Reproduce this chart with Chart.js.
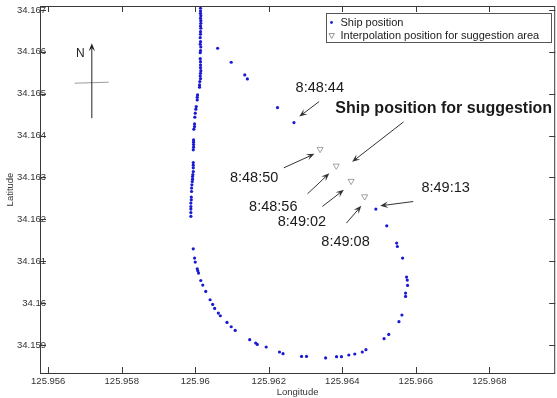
<!DOCTYPE html>
<html>
<head>
<meta charset="utf-8">
<script src="https://cdn.jsdelivr.net/npm/chart.js@4.4.0/dist/chart.umd.min.js"></script>
<style>
  html, body { margin: 0; padding: 0; background: #fff; overflow: hidden; }
  #wrap { width: 560px; height: 398px; position: relative; }
</style>
</head>
<body>
<div id="wrap"><canvas id="track"></canvas></div>
<script>
// ship track (longitude / latitude)
const shipLon = [
  125.960143, 125.960143, 125.960143, 125.960151, 125.960143, 125.960151, 125.960151, 125.960143,
  125.960151, 125.960143, 125.960143, 125.960135, 125.960143, 125.960135, 125.960151, 125.960143,
  125.960135, 125.960135, 125.960143, 125.960143, 125.960143, 125.960151, 125.960143, 125.960135,
  125.960143, 125.960124, 125.960116, 125.960116, 125.960062, 125.960054, 125.960054, 125.960027,
  125.960016, 125.960000, 125.959989, 125.959981, 125.959981, 125.959962, 125.959954, 125.959954,
  125.959954, 125.959954, 125.959946, 125.959946, 125.959946, 125.959946, 125.959946, 125.959935,
  125.959927, 125.959927, 125.959919, 125.959908, 125.959900, 125.959900, 125.959892, 125.959892,
  125.959881, 125.959881, 125.959881, 125.959881, 125.959881,
  125.959946, 125.959981, 125.960000, 125.960054, 125.960070, 125.960089, 125.960151, 125.960205,
  125.960286, 125.960404, 125.960474, 125.960528, 125.960628, 125.960682, 125.960863, 125.960978,
  125.961086, 125.961482, 125.961644, 125.961687, 125.961930, 125.962291, 125.962388, 125.962892,
  125.963027, 125.963547, 125.963844, 125.963978, 125.964178, 125.964340, 125.964544, 125.964644,
  125.965137, 125.965264, 125.965542, 125.965623, 125.965722, 125.965722, 125.965776, 125.965768,
  125.965749, 125.965641, 125.965499, 125.965480, 125.965210, 125.964914,
  125.960609, 125.960978, 125.961348, 125.961418, 125.962237, 125.962685
];
const shipLat = [
  34.167041, 34.166976, 34.166921, 34.166864, 34.166802, 34.166745, 34.166683, 34.166618,
  34.166563, 34.166482, 34.166420, 34.166339, 34.166243, 34.166181, 34.166117, 34.166029,
  34.165981, 34.165838, 34.165766, 34.165687, 34.165623, 34.165551, 34.165489, 34.165425,
  34.165360, 34.165289, 34.165210, 34.165155, 34.164971, 34.164916, 34.164852, 34.164692,
  34.164630, 34.164535, 34.164439, 34.164279, 34.164215, 34.164153, 34.163897, 34.163843,
  34.163785, 34.163723, 34.163659, 34.163356, 34.163294, 34.163229, 34.163141, 34.163069,
  34.163022, 34.162959, 34.162902, 34.162823, 34.162745, 34.162664, 34.162530, 34.162465,
  34.162387, 34.162306, 34.162244, 34.162162, 34.162072,
  34.161296, 34.161074, 34.160979, 34.160819, 34.160771, 34.160716, 34.160539, 34.160430,
  34.160277, 34.160079, 34.159967, 34.159871, 34.159761, 34.159697, 34.159537, 34.159434,
  34.159346, 34.159124, 34.159045, 34.159012, 34.158950, 34.158831, 34.158790, 34.158726,
  34.158726, 34.158688, 34.158719, 34.158719, 34.158759, 34.158783, 34.158831, 34.158886,
  34.159148, 34.159251, 34.159554, 34.159714, 34.160158, 34.160239, 34.160420, 34.160549,
  34.160621, 34.161074, 34.161350, 34.161432, 34.161845, 34.162244,
  34.166086, 34.165752, 34.165449, 34.165353, 34.164668, 34.164310
];

// interpolated positions for the suggestion area
const interpLon = [125.963396, 125.963836, 125.964240, 125.964609];
const interpLat = [34.163675, 34.163277, 34.162912, 34.162544];

const seriesNames = ['Ship position', 'Interpolation position for suggestion area'];

// axis ticks
const xTicks = [125.956, 125.958, 125.960, 125.962, 125.964, 125.966, 125.968];
const yTicks = [34.159, 34.160, 34.161, 34.162, 34.163, 34.164, 34.165, 34.166, 34.167];

// text notes with arrows (data coordinates)
const noteText = ['8:48:44', 'Ship position for suggestion', '8:48:50', '8:48:56', '8:49:02', '8:49:08', '8:49:13'];
const noteLon = [125.962730, 125.963809, 125.960943, 125.961464, 125.962245, 125.963431, 125.966154];
const noteLat = [34.165138, 34.164637, 34.162996, 34.162287, 34.161940, 34.161451, 34.162759];
const arrowFromLon = [125.963369, 125.965668, 125.962407, 125.963054, 125.963458, 125.964113, 125.965930];
const arrowFromLat = [34.164811, 34.164327, 34.163229, 34.162609, 34.162306, 34.161909, 34.162425];
const arrowToLon = [125.962830, 125.964267, 125.963243, 125.963647, 125.964043, 125.964518, 125.965030];
const arrowToLat = [34.164453, 34.163372, 34.163563, 34.163098, 34.162704, 34.162322, 34.162322];

// north sign
const northLon = 125.957186, northTopLat = 34.166205, northBottomLat = 34.164415;
const northLabelLon = 125.956873, northLabelLat = 34.165967;
const crossLon = [125.956720, 125.957644], crossLat = 34.165263;

const FONT = '"Liberation Sans", Arial, sans-serif';

function fmtTick(v) {
    return String(Number(v.toFixed(3)));
}

function arrow(ctx, x1, y1, x2, y2, head, color) {
    const ang = Math.atan2(y2 - y1, x2 - x1);
    const c = Math.cos(ang), s = Math.sin(ang);
    ctx.strokeStyle = color;
    ctx.fillStyle = color;
    ctx.lineWidth = 1;
    ctx.beginPath();
    ctx.moveTo(x1, y1);
    ctx.lineTo(x2 - c * head * 0.6, y2 - s * head * 0.6);
    ctx.stroke();
    ctx.beginPath();
    ctx.moveTo(x2, y2);
    ctx.lineTo(x2 - head * c + head * 0.4 * s, y2 - head * s - head * 0.4 * c);
    ctx.lineTo(x2 - head * 0.6 * c, y2 - head * 0.6 * s);
    ctx.lineTo(x2 - head * c - head * 0.4 * s, y2 - head * s + head * 0.4 * c);
    ctx.closePath();
    ctx.fill();
}

const decorations = {
    id: 'decorations',
    afterDatasetsDraw(chart) {
        const {ctx, chartArea: a, scales: {x, y}} = chart;
        ctx.save();

        // axes box + inward ticks (matlab style)
        ctx.strokeStyle = '#3a3a3a';
        ctx.lineWidth = 1;
        ctx.strokeRect(a.left + 0.5, a.top + 0.5, a.right - a.left - 1, a.bottom - a.top);
        ctx.beginPath();
        x.ticks.forEach(t => {
            const px = Math.round(x.getPixelForValue(t.value)) + 0.5;
            ctx.moveTo(px, a.bottom); ctx.lineTo(px, a.bottom - 6);
            ctx.moveTo(px, a.top); ctx.lineTo(px, a.top + 6);
        });
        y.ticks.forEach(t => {
            const py = Math.round(y.getPixelForValue(t.value)) + 0.5;
            ctx.moveTo(a.left, py); ctx.lineTo(a.left + 6, py);
            ctx.moveTo(a.right, py); ctx.lineTo(a.right - 6, py);
        });
        ctx.stroke();

        // y tick labels overlap the axis line in the original, so they are drawn here
        ctx.fillStyle = '#333';
        ctx.font = '9.5px ' + FONT;
        ctx.textAlign = 'right';
        ctx.textBaseline = 'middle';
        y.ticks.forEach(t => {
            ctx.fillText(fmtTick(t.value), 46, y.getPixelForValue(t.value));
        });

        // legend box
        const lx = 326, ly = 13, lw = 225, lh = 29;
        ctx.fillStyle = '#fff';
        ctx.fillRect(lx, ly, lw, lh);
        ctx.strokeStyle = '#555';
        ctx.strokeRect(lx + 0.5, ly + 0.5, lw, lh);
        ctx.font = '11px ' + FONT;
        ctx.textAlign = 'left';
        ctx.fillStyle = '#1a1a1a';
        ctx.fillText(chart.data.datasets[0].label, 340.5, 23);
        ctx.fillText(chart.data.datasets[1].label, 340.5, 35.5);
        ctx.fillStyle = '#1f1fd0';
        ctx.beginPath(); ctx.arc(331.5, 22.5, 1.4, 0, Math.PI * 2); ctx.fill();
        ctx.strokeStyle = '#999';
        ctx.beginPath();
        ctx.moveTo(329, 33.5); ctx.lineTo(334.5, 33.5); ctx.lineTo(331.7, 38.5); ctx.closePath();
        ctx.stroke();

        // north sign
        const nx = x.getPixelForValue(northLon);
        ctx.strokeStyle = '#999';
        ctx.beginPath();
        ctx.moveTo(x.getPixelForValue(crossLon[0]), y.getPixelForValue(crossLat) + 0.5);
        ctx.lineTo(x.getPixelForValue(crossLon[1]), y.getPixelForValue(crossLat) - 0.5);
        ctx.stroke();
        arrow(ctx, nx, y.getPixelForValue(northBottomLat), nx, y.getPixelForValue(northTopLat), 8, '#222');
        ctx.fillStyle = '#222';
        ctx.font = '12px ' + FONT;
        ctx.textAlign = 'center';
        ctx.fillText('N', x.getPixelForValue(northLabelLon), y.getPixelForValue(northLabelLat));

        // notes
        noteText.forEach((txt, i) => {
            arrow(ctx, x.getPixelForValue(arrowFromLon[i]), y.getPixelForValue(arrowFromLat[i]),
                  x.getPixelForValue(arrowToLon[i]), y.getPixelForValue(arrowToLat[i]), 8, '#333');
            ctx.fillStyle = '#1a1a1a';
            ctx.textAlign = 'left';
            ctx.font = i === 1 ? 'bold 16px ' + FONT : '14.5px ' + FONT;
            ctx.fillText(txt, x.getPixelForValue(noteLon[i]), y.getPixelForValue(noteLat[i]));
        });
        ctx.restore();
    }
};

const ctx = document.getElementById('track').getContext('2d');
new Chart(ctx, {
    type: 'scatter',
    data: {
        datasets: [{
            label: seriesNames[0],
            data: shipLon.map((v, i) => ({x: v, y: shipLat[i]})),
            pointRadius: 1.6,
            pointBackgroundColor: '#1a1ad4',
            pointBorderWidth: 0,
            showLine: false
        }, {
            label: seriesNames[1],
            data: interpLon.map((v, i) => ({x: v, y: interpLat[i]})),
            pointStyle: 'triangle',
            rotation: 180,
            pointRadius: 3.5,
            pointBackgroundColor: 'rgba(255,255,255,0)',
            pointBorderColor: '#8a8a8a',
            pointBorderWidth: 0.8,
            showLine: false
        }]
    },
    options: {
        responsive: true,
        maintainAspectRatio: false,
        animation: false,
        layout: { padding: { top: 6, left: 0, right: 0, bottom: 0 } },
        plugins: {
            legend: { display: false },
            tooltip: { enabled: false }
        },
        scales: {
            x: {
                type: 'linear',
                min: 125.955776,
                max: 125.969793,
                afterBuildTicks: s => { s.ticks = xTicks.map(v => ({value: v})); },
                afterFit: s => { s.height = 25; },
                grid: { display: false, drawTicks: false },
                border: { display: false },
                ticks: {
                    color: '#333',
                    padding: 3,
                    maxRotation: 0,
                    autoSkip: false,
                    font: { family: FONT, size: 9.5 },
                    callback: v => fmtTick(v)
                },
                title: {
                    display: true,
                    text: 'Longitude',
                    color: '#333',
                    padding: { top: 0, bottom: 0 },
                    font: { family: FONT, size: 9.5 }
                }
            },
            y: {
                type: 'linear',
                min: 34.158329,
                max: 34.167095,
                afterBuildTicks: s => { s.ticks = yTicks.map(v => ({value: v})); },
                afterFit: s => { s.width = 40; },
                grid: { display: false, drawTicks: false },
                border: { display: false },
                ticks: { display: false },
                title: {
                    display: true,
                    text: 'Latitude',
                    color: '#333',
                    padding: { top: 5, bottom: 0 },
                    font: { family: FONT, size: 9.5 }
                }
            }
        }
    },
    plugins: [decorations]
});
</script>
</body>
</html>
